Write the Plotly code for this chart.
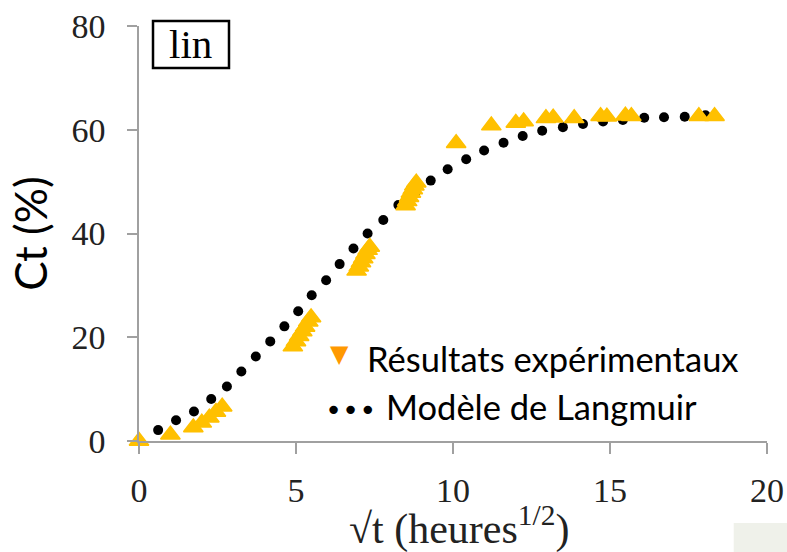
import plotly.graph_objects as go

# Experimental results (sqrt(t), Ct %)
exp_x = [0.0, 1.0, 1.73, 2.0, 2.24, 2.45, 2.65,
         4.90, 5.00, 5.10, 5.20, 5.29, 5.39, 5.48,
         6.93, 7.00, 7.07, 7.14, 7.21, 7.28, 7.35,
         8.49, 8.54, 8.60, 8.66, 8.72, 8.77, 8.83,
         10.10, 11.22, 12.00, 12.25, 12.96, 13.19, 13.86,
         14.70, 14.90, 15.49, 15.68, 17.83, 18.33]
exp_y = [0.0, 1.2, 2.6, 3.5, 4.5, 5.6, 6.6,
         18.2, 19.2, 20.2, 21.1, 22.0, 23.0, 23.8,
         32.8, 33.6, 34.4, 35.2, 36.0, 36.8, 37.4,
         45.4, 46.2, 47.0, 47.8, 48.5, 49.2, 49.8,
         57.4, 60.8, 61.3, 61.6, 62.2, 62.3, 62.2,
         62.6, 62.5, 62.7, 62.6, 62.6, 62.6]

# Langmuir model
mod_x = [0.61, 1.18, 1.75, 2.30, 2.80, 3.26, 3.72, 4.18, 4.63, 5.07, 5.50,
         5.96, 6.39, 6.83, 7.28, 7.78, 8.26, 8.79, 9.29, 9.83, 10.42, 10.99,
         11.61, 12.22, 12.84, 13.50, 14.14, 14.78, 15.41, 16.09, 16.72, 17.38, 18.04]
mod_y = [2.1, 4.0, 5.7, 8.1, 10.5, 13.4, 16.3, 19.2, 22.1, 25.0, 28.1,
         31.0, 34.1, 37.1, 40.0, 42.6, 45.5, 47.7, 50.2, 52.4, 54.3, 56.0,
         57.5, 58.8, 59.8, 60.5, 61.1, 61.6, 61.9, 62.3, 62.4, 62.5, 62.8]

x_ticks = [0, 5, 10, 15, 20]
y_ticks = [0, 20, 40, 60, 80]

serif = "Liberation Serif"
sans = "Lato"

fig = go.Figure()
fig.add_trace(go.Scatter(x=mod_x, y=mod_y, mode="markers", name="Modèle de Langmuir",
                         marker=dict(symbol="circle", size=10, color="black"),
                         cliponaxis=False))
fig.add_trace(go.Scatter(x=exp_x, y=exp_y, mode="markers", name="Résultats expérimentaux",
                         marker=dict(symbol="triangle-up", size=17, color="#FFC000",
                                     line=dict(width=1.5, color="#FFC000")),
                         cliponaxis=False))

fig.update_layout(
    width=787, height=552,
    margin=dict(l=139, r=20, t=26, b=111),
    paper_bgcolor="white", plot_bgcolor="white",
    showlegend=False,
    xaxis=dict(range=[0, 20], tickvals=x_ticks, showgrid=False, zeroline=False,
               automargin=False,
               showline=True, linecolor="#A0A0A0", linewidth=1.5,
               ticks="outside", ticklen=11, tickcolor="#A0A0A0", tickwidth=1.5,
               ticklabelstandoff=7,
               tickfont=dict(family=serif, size=34, color="#222")),
    yaxis=dict(range=[0, 80], tickvals=y_ticks, showgrid=False, zeroline=False,
               automargin=False,
               showline=True, linecolor="#A0A0A0", linewidth=1.5,
               ticks="outside", ticklen=10, tickcolor="#A0A0A0", tickwidth=1.5,
               ticklabelstandoff=15,
               tickfont=dict(family=serif, size=34, color="#222"),
               title=dict(text="Ct (%)", standoff=10,
                          font=dict(family=sans, size=44, color="black"))),
)

# x axis title
fig.add_annotation(xref="paper", yref="paper", x=0.5096, y=-0.205,
                   xanchor="center", yanchor="middle",
                   text="√t (heures<sup>1/2</sup>)", showarrow=False,
                   font=dict(family=serif, size=42, color="#222"))

# "lin" box
fig.add_shape(type="rect", xref="paper", yref="paper",
              x0=0.0223, x1=0.1433, y0=0.899, y1=1.012,
              line=dict(color="black", width=2.5), fillcolor="white")
fig.add_annotation(xref="paper", yref="paper", x=0.0828, y=0.957, text="lin",
                   xanchor="center", yanchor="middle",
                   showarrow=False, font=dict(family=serif, size=41, color="black"))

# Legend (manual)
fig.add_annotation(x=6.40, y=16.8, text="▼", showarrow=False,
                   font=dict(family="DejaVu Sans", size=24, color="#FF9900"))
fig.add_annotation(x=7.2, y=16.0, text="Résultats expérimentaux", xanchor="left",
                   showarrow=False, font=dict(family=sans, size=34.5, color="black"))
fig.add_annotation(x=5.85, y=6.0, text="•••", xanchor="left", showarrow=False,
                   font=dict(family="DejaVu Sans", size=29, color="black"))
fig.add_annotation(x=7.8, y=6.7, text="Modèle de Langmuir", xanchor="left",
                   showarrow=False, font=dict(family=sans, size=34.5, color="black"))

# light patch bottom right
fig.add_shape(type="rect", xref="paper", yref="paper",
              x0=0.947, x1=1.04, y0=-0.2675, y1=-0.1976,
              line=dict(width=0), fillcolor="#EFF1EA")

fig.write_html("out.html", config={"displayModeBar": False},
               post_script="document.body.style.margin='0px';")
